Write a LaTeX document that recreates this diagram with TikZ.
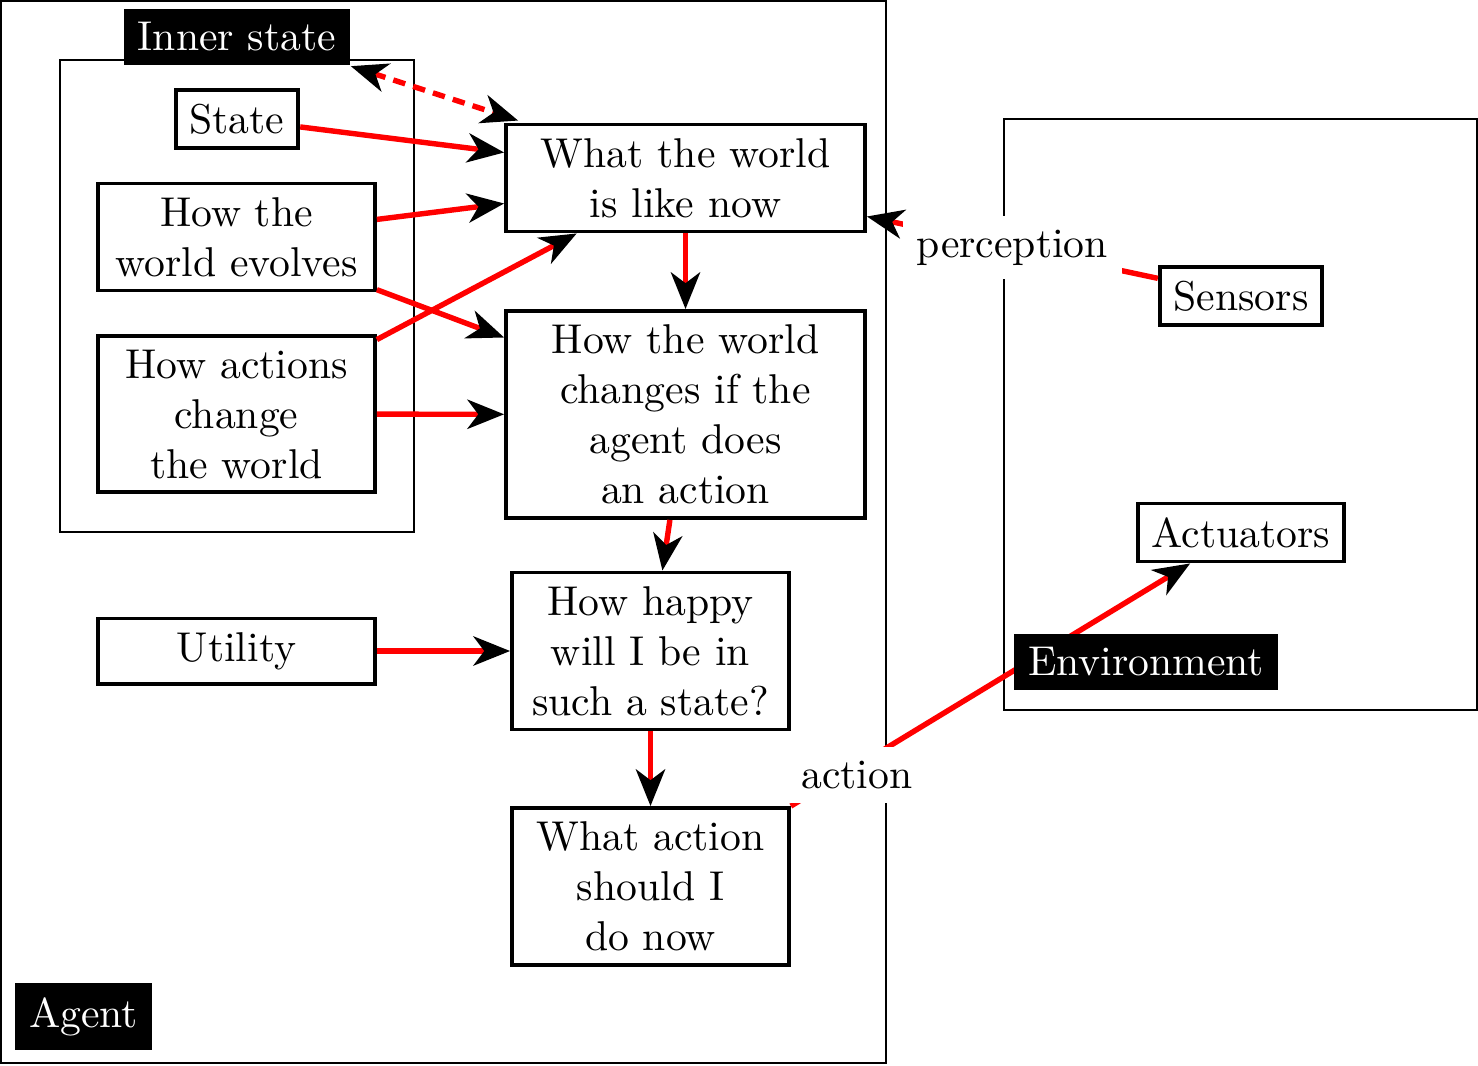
\documentclass[tikz,border=0pt]{standalone}
\usetikzlibrary{arrows.meta,calc}
\begin{document}
\begin{tikzpicture}[x=0.24pt,y=-0.24pt,
  frame/.style={draw=black,line width=0.5pt},
  box/.style={draw=black,line width=0.9pt,fill=white,align=center},
  wbox/.style={box,minimum width=277*0.24pt},
  Wbox/.style={box,minimum width=359*0.24pt},
  blackbox/.style={fill=black,text=white},
  lbl/.style={fill=white,text=black},
  conn/.style={draw=red,line width=1.3pt,-{Stealth[black,length=8.8pt,width=7pt,inset=2.6pt]}},
  dconn/.style={draw=red,line width=1.3pt,dash pattern=on 3pt off 2pt,
    {Stealth[black,length=8.8pt,width=7pt,inset=2.6pt]}-{Stealth[black,length=8.8pt,width=7pt,inset=2.6pt]}},
]
\useasboundingbox (0,0) rectangle (1478,1065);
% frames
\draw[frame] (1,1) rectangle (886,1063);
\draw[frame] (60,60) rectangle (414,532);
\draw[frame] (1004,119) rectangle (1477,710);
% nodes
\node[blackbox] (inner) at (237,37) {Inner state};
\node[box] (state) at (237,119) {State};
\node[wbox] (evolves) at (236.5,237) {How the\\ world evolves};
\node[wbox] (actions) at (236.5,414) {How actions\\ change\\ the world};
\node[Wbox] (what) at (685.5,178) {What the world\\ is like now};
\node[Wbox] (changes) at (685.5,414.5) {How the world\\ changes if the\\ agent does\\ an action};
\node[wbox] (happy) at (650.5,651) {How happy\\ will I be in\\ such a state?};
\node[wbox] (utility) at (236.5,651) {Utility};
\node[wbox] (whataction) at (650.5,886.5) {What action\\ should I\\ do now};
\node[blackbox] (agent) at (83.5,1016.5) {Agent};
\node[box] (sensors) at (1241,296) {Sensors};
\node[box] (actuators) at (1241,532.5) {Actuators};
% connectors
\draw[dconn] (inner.south east) -- ($(what.north west)+(14,-2)$);
\draw[conn] (state) -- (what.172);
\draw[conn] (evolves) -- (what.188);
\draw[conn] (evolves) -- (changes.157.5);
\draw[conn] (actions) -- (what.207);
\draw[conn] (actions) -- (changes);
\draw[conn] (what) -- (changes);
\draw[conn] (changes) -- (happy);
\draw[conn] (utility) -- (happy);
\draw[conn] (happy) -- (whataction);
\draw[conn] (sensors) -- node[lbl]{perception} (what);
\draw[conn] (whataction.north east) -- node[lbl,pos=0.165,yshift=-2.2pt]{action} (actuators);
\node[blackbox] (environment) at (1146,662) {Environment};
\end{tikzpicture}
\end{document}
